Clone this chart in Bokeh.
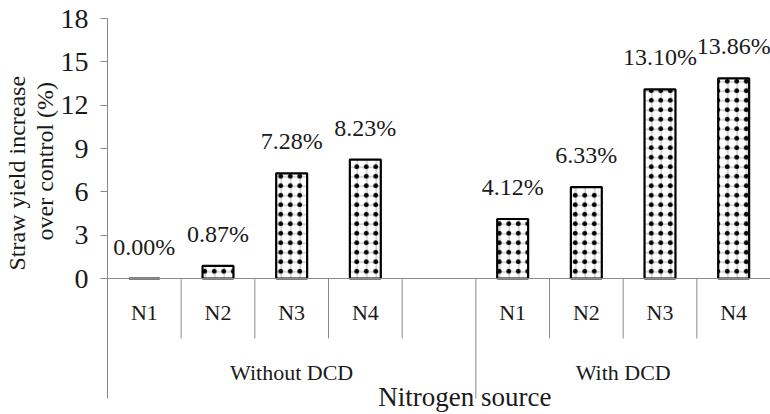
from bokeh.plotting import figure
from bokeh.models import (FactorRange, Range1d, FixedTicker, LinearAxis, Span,
                          Label, Title, ColumnDataSource)
from bokeh.embed import file_html
from bokeh.resources import INLINE
from bokeh.core.properties import value

# ---- data ----
groups = ["Without DCD", "With DCD"]
sources = ["N1", "N2", "N3", "N4"]
without_dcd = [0.00, 0.87, 7.28, 8.23]
with_dcd = [4.12, 6.33, 13.10, 13.86]
y_ticks = [0, 3, 6, 9, 12, 15, 18]
y_title = ["Straw yield increase", "over control (%)"]
x_title = "Nitrogen source"

FONT = "Liberation Serif"
AXIS_GRAY = "#8a8a8a"
TEXT = "#1a1a1a"

# layout constants (data units on y)
Y_TOP = 18
Y_BOTTOM = -(136 / 260) * 18
Y_NLAB = -2.35
Y_SHORT = -4.15
Y_GLAB = -6.5
Y_LONG = -8.3
Y_XTITLE = -8.2

factors = ([(groups[0], s) for s in sources] + [(groups[0], " ")]
           + [(groups[1], s) for s in sources])
bar_x = [(groups[0], s) for s in sources] + [(groups[1], s) for s in sources]
bar_y = without_dcd + with_dcd
bar_lab = [f"{v:.2f}%" for v in bar_y]

src = ColumnDataSource(dict(x=bar_x, top=bar_y, label=bar_lab))

x_range = FactorRange(factors=factors, factor_padding=0, group_padding=0,
                      subgroup_padding=0, range_padding=0)

p = figure(width=770, height=414, x_range=x_range,
           y_range=Range1d(Y_BOTTOM, Y_TOP), output_backend="svg",
           toolbar_location=None, x_axis_location=None, title=None,
           min_border_left=107, min_border_top=18, min_border_bottom=0,
           min_border_right=0, outline_line_color=None)
p.grid.visible = False
p.background_fill_color = "white"

ax = p.yaxis[0]
ax.ticker = FixedTicker(ticks=y_ticks)
ax.bounds = (Y_LONG, Y_TOP)
ax.axis_line_color = AXIS_GRAY
ax.major_tick_line_color = AXIS_GRAY
ax.major_tick_out = 7
ax.major_tick_in = 0
ax.minor_tick_line_color = None
ax.major_label_standoff = 12
ax.major_label_text_font = FONT
ax.major_label_text_font_size = "28px"
ax.major_label_text_color = TEXT

# y-axis title: two left-side titles (inner line first), offset up from bottom
for line, off in zip(reversed(y_title), [174, 144]):
    p.add_layout(Title(text=line, align="left", offset=off, standoff=0,
                       text_font=FONT, text_font_size="24px",
                       text_font_style="normal", text_color=TEXT), "left")

rax = LinearAxis(ticker=FixedTicker(ticks=[]), bounds=(Y_LONG, 0),
                 axis_line_color=AXIS_GRAY, major_tick_line_color=None,
                 minor_tick_line_color=None, major_label_text_font_size="0px",
                 major_label_standoff=0, major_tick_out=0, major_tick_in=0)
p.add_layout(rax, "right")

p.add_layout(Span(location=0, dimension="width", line_color=AXIS_GRAY,
                  line_width=1))

# category separators (boundaries in slot units)
n = len(factors)
n_first = len(sources) + 1
short_x = [i for i in range(1, n) if i != n_first]
long_x = [n_first]
p.segment(x0=short_x, y0=[0] * len(short_x), x1=short_x,
          y1=[Y_SHORT] * len(short_x), line_color=AXIS_GRAY, line_width=1)
p.segment(x0=long_x, y0=[0], x1=long_x, y1=[Y_LONG],
          line_color=AXIS_GRAY, line_width=1)

# bars: light grid underneath, black dots on top
p.vbar(x="x", top="top", width=0.42, source=src, fill_color="white",
       line_color=None, hatch_pattern="cross", hatch_color="#a0a0a0",
       hatch_scale=9.5, hatch_weight=0.8)
p.vbar(x="x", top="top", width=0.42, source=src, fill_alpha=0,
       line_color="black", line_width=2.2, hatch_pattern="dot",
       hatch_color="black", hatch_scale=9.5, hatch_weight=7)

p.text(x="x", y="top", text="label", source=src, text_align="center",
       text_baseline="middle", y_offset=-32, text_font=value(FONT),
       text_font_size="24px", text_color=TEXT)

# category labels
cat_x = [f for f in factors if f[1].strip()]
p.text(x=cat_x, y=[Y_NLAB] * len(cat_x), text=[f[1] for f in cat_x],
       text_align="center", text_baseline="middle", text_font=value(FONT),
       text_font_size="22px", text_color=TEXT)

grp_x = [n_first / 2, (n_first + n) / 2]
p.text(x=grp_x, y=[Y_GLAB] * 2, text=groups, text_align="center",
       text_baseline="middle", text_font=value(FONT),
       text_font_size="22px", text_color=TEXT)

p.add_layout(Label(x=4.85, y=Y_XTITLE, text=x_title, text_align="center",
                   text_baseline="middle", text_font=FONT,
                   text_font_size="27px", text_color=TEXT))

open("out.html", "w").write(file_html(p, INLINE))
